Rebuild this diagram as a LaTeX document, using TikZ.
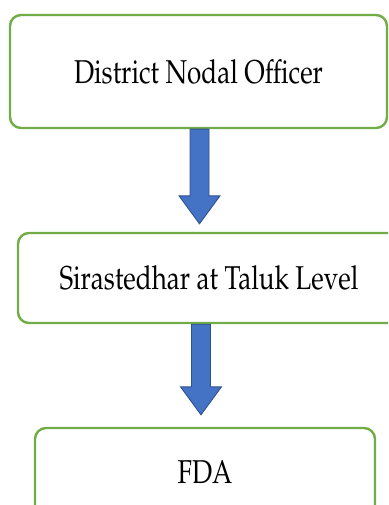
\documentclass[tikz,border=0pt]{standalone}
\usepackage[T1]{fontenc}
\usepackage{mathpazo}
\usetikzlibrary{calc}

\definecolor{boxgreen}{HTML}{70AD47}
\definecolor{arrowfill}{HTML}{4472C4}
\definecolor{arrowline}{HTML}{2F528F}

% labels in the boxes are set a little taller than wide
\newcommand{\boxtext}[1]{\scalebox{1}[1.27]{\fontsize{26}{30}\selectfont #1}}

% thick block arrow from the bottom of #1 down to #3pt above #2, moved sideways by #4pt
\newcommand{\flowarrow}[4]{%
  \path (#1.south) ++(#4,0) coordinate (top) (#2.north) ++(#4,-#3) coordinate (bot);
  \draw[blockarrow] let \p1=(top), \p2=(bot) in
    (\x1-9.5pt,\y1) -- (\x1-9.5pt,\y2+28pt) -- (\x1-20.5pt,\y2+28pt)
    -- (\x1,\y2) -- (\x1+20.5pt,\y2+28pt) -- (\x1+9.5pt,\y2+28pt)
    -- (\x1+9.5pt,\y1) -- cycle;
}

\begin{document}
\begin{tikzpicture}[x=1pt, y=-1pt]
    \tikzstyle{level} = [draw=boxgreen, line width=2.4pt, fill=white, rounded corners=11pt, inner sep=0pt, align=center]
    \tikzstyle{blockarrow} = [fill=arrowfill, draw=arrowline, line width=0.9pt, line join=miter]

    \useasboundingbox (0,0) rectangle (388,505);
    \clip (0,0) rectangle (388,505);

    \node[level, minimum width=377pt, minimum height=113pt] (officer) at (198.5,71.5) {\boxtext{District Nodal Officer}};
    \node[level, minimum width=382pt, minimum height=90pt] (taluk) at (209,278) {\boxtext{Sirastedhar at Taluk Level}};
    \node[level, minimum width=340pt, minimum height=88pt] (fda) at (205,472) {\boxtext{FDA}};

    \flowarrow{officer}{taluk}{8}{1}
    \flowarrow{taluk}{fda}{12}{-8}
\end{tikzpicture}
\end{document}
